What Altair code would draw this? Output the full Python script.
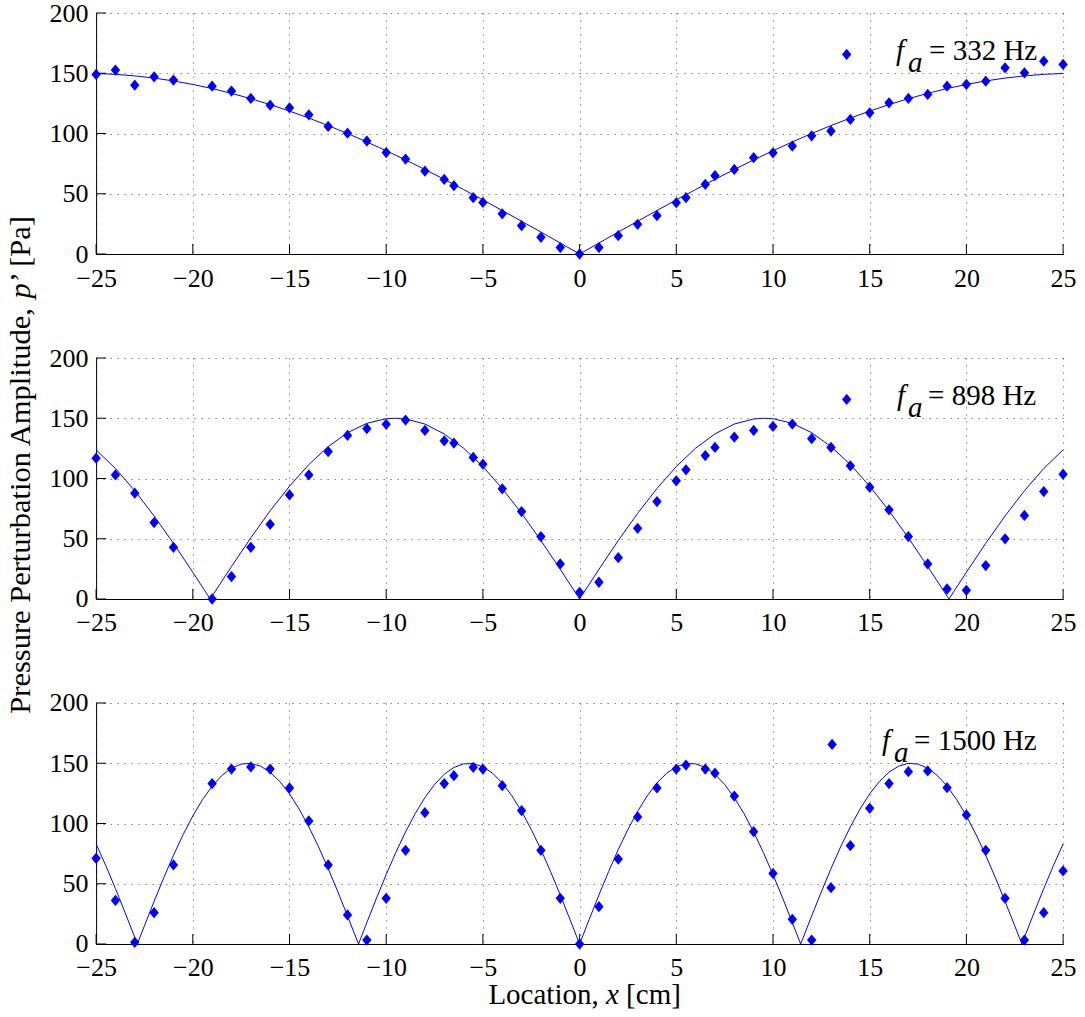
import altair as alt
import pandas as pd

# ---------------- data ----------------
X_MEAS = [-25, -24, -23, -22, -21, -19, -18, -17, -16, -15, -14, -13, -12, -11, -10,
          -9, -8, -7, -6.5, -5.5, -5, -4, -3, -2, -1, 0, 1, 2, 3, 4, 5, 5.5, 6.5,
          7, 8, 9, 10, 11, 12, 13, 14, 15, 16, 17, 18, 19, 20, 21, 22, 23, 24, 25]

P_332 = [149.0, 152.6, 140.1, 147.0, 144.3, 139.3, 135.2, 129.1, 123.5, 121.3, 115.5, 105.9, 100.3, 93.7, 84.2,
         78.8, 68.8, 61.9, 56.7, 46.7, 42.8, 33.4, 23.5, 13.8, 5.3, 0.0, 5.3, 15.2, 24.6, 31.8, 42.6, 46.7, 57.8,
         65.0, 70.2, 79.9, 84.0, 89.6, 98.1, 102.0, 111.7, 117.2, 125.5, 129.1, 132.4, 139.3, 140.7, 143.4, 154.5, 150.4, 160.0, 157.3]

P_898 = [116.9, 103.0, 87.8, 63.4, 42.9, 0.0, 18.6, 42.9, 62.0, 86.4, 103.0, 122.4, 135.7, 141.3, 145.0,
         148.5, 139.9, 131.3, 129.4, 117.5, 111.9, 91.4, 72.6, 51.8, 29.1, 5.5, 13.9, 34.3, 58.7, 80.9, 98.1, 107.2, 119.0,
         125.8, 134.3, 139.9, 143.2, 145.2, 133.0, 125.8, 110.5, 92.8, 74.0, 51.8, 29.1, 8.3, 7.2, 27.7, 49.9, 69.3, 89.2, 103.6]

P_1500 = [71.1, 36.2, 1.4, 26.0, 65.6, 133.1, 145.2, 146.9, 145.2, 129.5, 102.1, 65.6, 24.1, 3.3, 37.9,
          77.7, 109.0, 133.1, 139.7, 146.6, 145.2, 131.4, 110.7, 77.7, 37.9, 0.0, 31.0, 70.5, 105.4, 129.5, 145.2, 148.5, 145.2,
          141.8, 122.8, 93.2, 58.6, 20.5, 3.3, 46.7, 81.6, 112.6, 133.1, 143.0, 143.6, 129.7, 107.1, 77.7, 37.9, 3.3, 26.0, 60.6]

CURVE_X_332 = [-25, -24, -23, -22, -21, -20, -19, -18, -17, -16, -15, -14, -13, -12, -11, -10, -9, -8, -7, -6, -5,
               -4, -3, -2, -1, 0, 1, 2, 3, 4, 5, 6, 7, 8, 9, 10, 11, 12, 13, 14, 15, 16, 17, 18, 19, 20, 21, 22, 23, 24, 25]
CURVE_P_332 = [149.8, 149.1, 147.8, 146.0, 143.6, 140.7, 137.3, 133.3, 128.9, 124.0, 118.6, 112.8, 106.6, 100.0, 93.0,
               85.7, 78.1, 70.1, 62.0, 53.5, 44.9, 36.1, 27.2, 18.2, 9.1, 0.0, 9.1, 18.2, 27.2, 36.1, 44.9, 53.5, 62.0,
               70.1, 78.1, 85.7, 93.0, 100.0, 106.6, 112.8, 118.6, 124.0, 128.9, 133.3, 137.3, 140.7, 143.6, 146.0,
               147.8, 149.1, 149.8]

CURVE_X_898 = [-25, -24, -23, -22, -21, -20, -19.1, -19, -18, -17, -16, -15, -14, -13, -12, -11, -10, -9.5,
               -9, -8, -7, -6, -5, -4, -3, -2, -1, 0, 1, 2, 3, 4, 5, 6, 7, 8, 9,
               9.5, 10, 11, 12, 13, 14, 15, 16, 17, 18, 19, 19.1, 20, 21, 22, 23, 24, 25]
CURVE_P_898 = [123.8, 108.3, 89.8, 68.9, 46.2, 22.2, 0.0, 2.4, 26.9, 50.8, 73.2, 93.6, 111.6, 126.5, 138.0, 145.8, 149.6, 150.0,
               149.4, 145.2, 137.0, 125.2, 109.9, 91.7, 71.1, 48.5, 24.6, 0.0, 24.6, 48.5, 71.1, 91.7, 109.9, 125.2, 137.0, 145.2, 149.4,
               150.0, 149.6, 145.8, 138.0, 126.5, 111.6, 93.6, 73.2, 50.8, 26.9, 2.4, 0.0, 22.2, 46.2, 68.9, 89.8, 108.3, 123.8]

CURVE_X_1500 = [-25, -24.5, -24, -23.5, -23, -22.87, -22.5, -22, -21.5, -21, -20.5, -20, -19.5, -19, -18.5, -18,
                -17.5, -17, -16.5, -16, -15.5, -15, -14.5, -14, -13.5, -13, -12.5, -12, -11.5, -11.43, -11, -10.5,
                -10, -9.5, -9, -8.5, -8, -7.5, -7, -6.5, -6, -5.5, -5, -4.5, -4, -3.5, -3, -2.5, -2, -1.5, -1, -0.5,
                0, 0.5, 1, 1.5, 2, 2.5, 3, 3.5, 4, 4.5, 5, 5.5, 6, 6.5, 7, 7.5, 8, 8.5, 9, 9.5, 10, 10.5, 11,
                11.43, 11.5, 12, 12.5, 13, 13.5, 14, 14.5, 15, 15.5, 16, 16.5, 17, 17.5, 18, 18.5, 19, 19.5, 20,
                20.5, 21, 21.5, 22, 22.5, 22.87, 23, 23.5, 24, 24.5, 25]
CURVE_P_1500 = [83.0, 65.1, 46.0, 26.0, 5.5, 0.0, 15.1, 35.4, 55.0, 73.6, 90.8, 106.3, 119.8, 131.0, 139.8, 145.9,
                149.3, 149.9, 147.6, 142.6, 134.8, 124.6, 112.0, 97.2, 80.7, 62.6, 43.3, 23.3, 2.7, 0.0, 17.8, 38.1,
                57.6, 76.0, 93.0, 108.2, 121.4, 132.4, 140.8, 146.5, 149.5, 149.7, 147.1, 141.7, 133.6, 123.0, 110.1,
                95.1, 78.4, 60.1, 40.7, 20.5,
                0.0, 20.5, 40.7, 60.1, 78.4, 95.1, 110.1, 123.0, 133.6, 141.7, 147.1, 149.7, 149.5, 146.5, 140.8,
                132.4, 121.4, 108.2, 93.0, 76.0, 57.6, 38.1, 17.8,
                0.0, 2.7, 23.3, 43.3, 62.6, 80.7, 97.2, 112.0, 124.6, 134.8, 142.6, 147.6, 149.9, 149.3, 145.9,
                139.8, 131.0, 119.8, 106.3, 90.8, 73.6, 55.0, 35.4, 15.1, 0.0, 5.5, 26.0, 46.0, 65.1, 83.0]

FREQ_TEXT = ["= 332 Hz", "= 898 Hz", "= 1500 Hz"]
X_TICKS = [-25, -20, -15, -10, -5, 0, 5, 10, 15, 20, 25]
Y_TICKS = [0, 50, 100, 150, 200]

# ---------------- styling ----------------
W, H = 967, 241
BLUE = "#0000ff"
FONT = "Liberation Serif"
TICK_FS = 26
LEG_FS = 29
XT_FS = 29
YT_FS = 30.5
DIAMOND = "M0,-1.2L1,0L0,1.2L-1,0Z"

xscale = alt.Scale(domain=[-25, 25], nice=False, zero=False)
yscale = alt.Scale(domain=[0, 200], nice=False)

xaxis = alt.Axis(values=X_TICKS, grid=True, ticks=False, title=None, labelFont=FONT,
                 labelFontSize=TICK_FS, labelColor="black", labelPadding=11, domainColor="black",
                 domainWidth=1, gridColor="black", gridDash=[1, 6], gridOpacity=0.75, gridWidth=1,
                 labelFlush=False, labelOverlap=False)
yaxis = alt.Axis(values=Y_TICKS, grid=True, ticks=False, title=None, labelFont=FONT,
                 labelFontSize=TICK_FS, labelColor="black", labelPadding=8, domainColor="black",
                 domainWidth=1, gridColor="black", gridDash=[1, 6], gridOpacity=0.75, gridWidth=1,
                 labelFlush=False, labelOverlap=False)

one = pd.DataFrame({"k": [0]})


def txt(s, x, y, italic=False, align="left", angle=0, size=LEG_FS):
    kw = dict(font=FONT, fontSize=size, align=align, baseline="alphabetic", color="black")
    if italic:
        kw["fontStyle"] = "italic"
    if angle:
        kw["angle"] = angle
    return alt.Chart(one).mark_text(**kw).encode(
        x=alt.value(x), y=alt.value(y), text=alt.value(s))


def panel(pvals, cx, cy, freq, leg, extra=None):
    pts = pd.DataFrame({"x": X_MEAS, "p": pvals})
    cur = pd.DataFrame({"x": cx, "p": cy})
    xt = pd.DataFrame({"t": X_TICKS})
    yt = pd.DataFrame({"t": Y_TICKS})

    line = alt.Chart(cur).mark_line(color=BLUE, strokeWidth=1).encode(
        x=alt.X("x:Q", scale=xscale, axis=xaxis),
        y=alt.Y("p:Q", scale=yscale, axis=yaxis))
    dots = alt.Chart(pts).mark_point(shape=DIAMOND, filled=True, color=BLUE, size=88,
                                     opacity=1).encode(
        x=alt.X("x:Q", scale=xscale, axis=xaxis),
        y=alt.Y("p:Q", scale=yscale, axis=yaxis))
    xticks = alt.Chart(xt).mark_rule(color="black", strokeWidth=1).encode(
        x=alt.X("t:Q", scale=xscale, axis=xaxis), y=alt.value(H), y2=alt.value(H - 10))
    yticks = alt.Chart(yt).mark_rule(color="black", strokeWidth=1).encode(
        y=alt.Y("t:Q", scale=yscale, axis=yaxis), x=alt.value(0), x2=alt.value(10))

    mx, my, fx, ax, ex = leg
    legmark = alt.Chart(one).mark_point(shape=DIAMOND, filled=True, color=BLUE, size=88,
                                        opacity=1).encode(x=alt.value(mx), y=alt.value(my))
    layers = [line, xticks, yticks, dots, legmark,
              txt("f", fx, 47, italic=True),
              txt("a", ax, 59, italic=True),
              txt(freq, ex, 47)]
    if extra:
        layers += extra
    return alt.layer(*layers).properties(width=W, height=H)


# y-axis title (rotated, reads bottom to top), pieces laid end to end
YT_X = -65.7
YT_START = 355.7  # bottom end, in middle panel coordinates
w1 = 13.36 * YT_FS
ytitle = [
    txt("Pressure Perturbation Amplitude,", YT_X, YT_START, align="left", angle=270, size=YT_FS),
    txt("p", YT_X, YT_START - w1 - 0.25 * YT_FS, italic=True, align="left", angle=270, size=YT_FS),
    txt("\u2019 [Pa]", YT_X, YT_START - w1 - 0.75 * YT_FS - 1, align="left", angle=270, size=YT_FS),
]
XT_START = 392.3
xtitle = [
    txt("Location,", XT_START, 301.5, align="left", size=XT_FS),
    txt("x", XT_START + 4.055 * XT_FS, 301.5, italic=True, align="left", size=XT_FS),
    txt("[cm]", XT_START + 4.749 * XT_FS, 301.5, align="left", size=XT_FS),
]

p1 = panel(P_332, CURVE_X_332, CURVE_P_332, FREQ_TEXT[0], (750.6, 41.4, 800, 812, 833))
p2 = panel(P_898, CURVE_X_898, CURVE_P_898, FREQ_TEXT[1], (750.6, 41.4, 801, 812, 832), ytitle)
p3 = panel(P_1500, CURVE_X_1500, CURVE_P_1500, FREQ_TEXT[2], (736, 41.4, 786, 798, 818), xtitle)

chart = alt.vconcat(p1, p2, p3, spacing=104, bounds="flush").properties(
    padding={"left": 6.1, "top": 0, "right": 5, "bottom": 5},
    background="white",
).configure_view(stroke=None)

chart.save("out.html", embed_options={"renderer": "svg", "actions": False})
